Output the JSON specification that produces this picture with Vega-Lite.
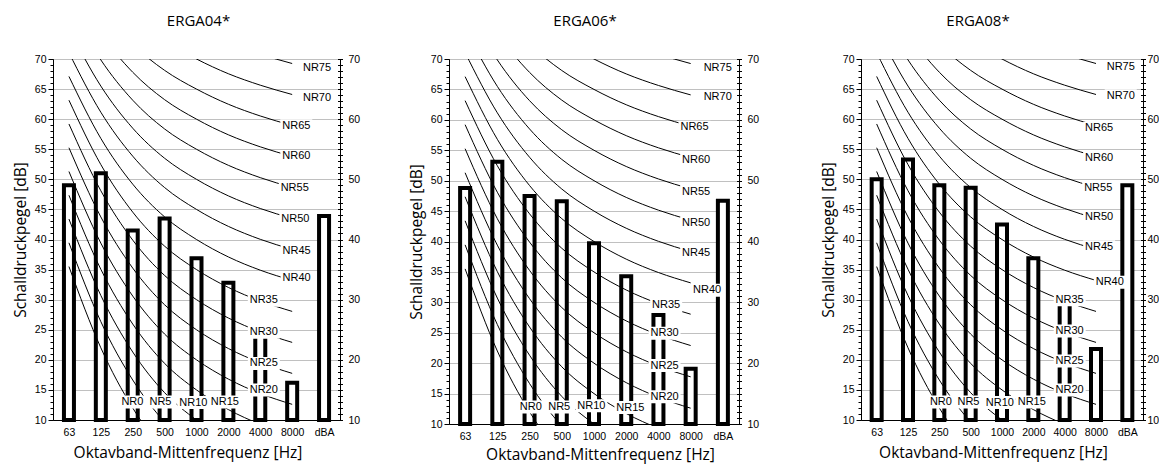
{
  "$schema": "https://vega.github.io/schema/vega-lite/v6.json",
  "padding": {"left": 13, "top": 14, "right": 0, "bottom": 4},
  "background": "white",
  "config": {
    "view": {"stroke": null},
    "axis": {"labelFont": "Liberation Sans", "labelFontSize": 10.5, "labelColor": "black", "titleFont": "Open Sans", "titleFontSize": 15.5, "titleFontWeight": "normal", "titleColor": "black", "domainColor": "black", "tickColor": "black", "gridColor": "#c0c0c0", "gridWidth": 1},
    "title": {"font": "Open Sans", "fontSize": 15, "fontWeight": "normal", "color": "black", "anchor": "middle", "baseline": "alphabetic", "offset": 25}
  },
  "datasets": {
    "bars": [
      {"p": "ERGA04*", "band": 0, "L": 49.0}, {"p": "ERGA04*", "band": 1, "L": 51.0}, {"p": "ERGA04*", "band": 2, "L": 41.5}, {"p": "ERGA04*", "band": 3, "L": 43.5}, {"p": "ERGA04*", "band": 4, "L": 36.9}, {"p": "ERGA04*", "band": 5, "L": 32.8}, {"p": "ERGA04*", "band": 6, "L": 24.3}, {"p": "ERGA04*", "band": 7, "L": 16.2}, {"p": "ERGA04*", "band": 8, "L": 43.9},
      {"p": "ERGA06*", "band": 0, "L": 48.8}, {"p": "ERGA06*", "band": 1, "L": 53.1}, {"p": "ERGA06*", "band": 2, "L": 47.5}, {"p": "ERGA06*", "band": 3, "L": 46.6}, {"p": "ERGA06*", "band": 4, "L": 39.7}, {"p": "ERGA06*", "band": 5, "L": 34.3}, {"p": "ERGA06*", "band": 6, "L": 27.9}, {"p": "ERGA06*", "band": 7, "L": 19.1}, {"p": "ERGA06*", "band": 8, "L": 46.7},
      {"p": "ERGA08*", "band": 0, "L": 50.0}, {"p": "ERGA08*", "band": 1, "L": 53.3}, {"p": "ERGA08*", "band": 2, "L": 49.0}, {"p": "ERGA08*", "band": 3, "L": 48.6}, {"p": "ERGA08*", "band": 4, "L": 42.5}, {"p": "ERGA08*", "band": 5, "L": 36.9}, {"p": "ERGA08*", "band": 6, "L": 29.5}, {"p": "ERGA08*", "band": 7, "L": 21.8}, {"p": "ERGA08*", "band": 8, "L": 49.0}
    ],
    "nr": [
      {"nr": 0, "band": 0, "L": 35.5}, {"nr": 0, "band": 1, "L": 22}, {"nr": 0, "band": 2, "L": 12}, {"nr": 0, "band": 3, "L": 4.8}, {"nr": 0, "band": 4, "L": 0}, {"nr": 0, "band": 5, "L": -3.5}, {"nr": 0, "band": 6, "L": -6.1}, {"nr": 0, "band": 7, "L": -8},
      {"nr": 5, "band": 0, "L": 39.45}, {"nr": 5, "band": 1, "L": 26.35}, {"nr": 5, "band": 2, "L": 16.65}, {"nr": 5, "band": 3, "L": 9.67}, {"nr": 5, "band": 4, "L": 5}, {"nr": 5, "band": 5, "L": 1.58}, {"nr": 5, "band": 6, "L": -0.98}, {"nr": 5, "band": 7, "L": -2.85},
      {"nr": 10, "band": 0, "L": 43.4}, {"nr": 10, "band": 1, "L": 30.7}, {"nr": 10, "band": 2, "L": 21.3}, {"nr": 10, "band": 3, "L": 14.54}, {"nr": 10, "band": 4, "L": 10}, {"nr": 10, "band": 5, "L": 6.65}, {"nr": 10, "band": 6, "L": 4.15}, {"nr": 10, "band": 7, "L": 2.3},
      {"nr": 15, "band": 0, "L": 47.35}, {"nr": 15, "band": 1, "L": 35.05}, {"nr": 15, "band": 2, "L": 25.95}, {"nr": 15, "band": 3, "L": 19.41}, {"nr": 15, "band": 4, "L": 15}, {"nr": 15, "band": 5, "L": 11.73}, {"nr": 15, "band": 6, "L": 9.28}, {"nr": 15, "band": 7, "L": 7.45},
      {"nr": 20, "band": 0, "L": 51.3}, {"nr": 20, "band": 1, "L": 39.4}, {"nr": 20, "band": 2, "L": 30.6}, {"nr": 20, "band": 3, "L": 24.28}, {"nr": 20, "band": 4, "L": 20}, {"nr": 20, "band": 5, "L": 16.8}, {"nr": 20, "band": 6, "L": 14.4}, {"nr": 20, "band": 7, "L": 12.6},
      {"nr": 25, "band": 0, "L": 55.25}, {"nr": 25, "band": 1, "L": 43.75}, {"nr": 25, "band": 2, "L": 35.25}, {"nr": 25, "band": 3, "L": 29.15}, {"nr": 25, "band": 4, "L": 25}, {"nr": 25, "band": 5, "L": 21.88}, {"nr": 25, "band": 6, "L": 19.53}, {"nr": 25, "band": 7, "L": 17.75},
      {"nr": 30, "band": 0, "L": 59.2}, {"nr": 30, "band": 1, "L": 48.1}, {"nr": 30, "band": 2, "L": 39.9}, {"nr": 30, "band": 3, "L": 34.02}, {"nr": 30, "band": 4, "L": 30}, {"nr": 30, "band": 5, "L": 26.95}, {"nr": 30, "band": 6, "L": 24.65}, {"nr": 30, "band": 7, "L": 22.9},
      {"nr": 35, "band": 0, "L": 63.15}, {"nr": 35, "band": 1, "L": 52.45}, {"nr": 35, "band": 2, "L": 44.55}, {"nr": 35, "band": 3, "L": 38.89}, {"nr": 35, "band": 4, "L": 35}, {"nr": 35, "band": 5, "L": 32.03}, {"nr": 35, "band": 6, "L": 29.78}, {"nr": 35, "band": 7, "L": 28.05},
      {"nr": 40, "band": 0, "L": 67.1}, {"nr": 40, "band": 1, "L": 56.8}, {"nr": 40, "band": 2, "L": 49.2}, {"nr": 40, "band": 3, "L": 43.76}, {"nr": 40, "band": 4, "L": 40}, {"nr": 40, "band": 5, "L": 37.1}, {"nr": 40, "band": 6, "L": 34.9}, {"nr": 40, "band": 7, "L": 33.2},
      {"nr": 45, "band": 0, "L": 71.05}, {"nr": 45, "band": 1, "L": 61.15}, {"nr": 45, "band": 2, "L": 53.85}, {"nr": 45, "band": 3, "L": 48.63}, {"nr": 45, "band": 4, "L": 45}, {"nr": 45, "band": 5, "L": 42.18}, {"nr": 45, "band": 6, "L": 40.03}, {"nr": 45, "band": 7, "L": 38.35},
      {"nr": 50, "band": 0, "L": 75}, {"nr": 50, "band": 1, "L": 65.5}, {"nr": 50, "band": 2, "L": 58.5}, {"nr": 50, "band": 3, "L": 53.5}, {"nr": 50, "band": 4, "L": 50}, {"nr": 50, "band": 5, "L": 47.25}, {"nr": 50, "band": 6, "L": 45.15}, {"nr": 50, "band": 7, "L": 43.5},
      {"nr": 55, "band": 0, "L": 78.95}, {"nr": 55, "band": 1, "L": 69.85}, {"nr": 55, "band": 2, "L": 63.15}, {"nr": 55, "band": 3, "L": 58.37}, {"nr": 55, "band": 4, "L": 55}, {"nr": 55, "band": 5, "L": 52.33}, {"nr": 55, "band": 6, "L": 50.28}, {"nr": 55, "band": 7, "L": 48.65},
      {"nr": 60, "band": 0, "L": 82.9}, {"nr": 60, "band": 1, "L": 74.2}, {"nr": 60, "band": 2, "L": 67.8}, {"nr": 60, "band": 3, "L": 63.24}, {"nr": 60, "band": 4, "L": 60}, {"nr": 60, "band": 5, "L": 57.4}, {"nr": 60, "band": 6, "L": 55.4}, {"nr": 60, "band": 7, "L": 53.8},
      {"nr": 65, "band": 0, "L": 86.85}, {"nr": 65, "band": 1, "L": 78.55}, {"nr": 65, "band": 2, "L": 72.45}, {"nr": 65, "band": 3, "L": 68.11}, {"nr": 65, "band": 4, "L": 65}, {"nr": 65, "band": 5, "L": 62.48}, {"nr": 65, "band": 6, "L": 60.53}, {"nr": 65, "band": 7, "L": 58.95},
      {"nr": 70, "band": 0, "L": 90.8}, {"nr": 70, "band": 1, "L": 82.9}, {"nr": 70, "band": 2, "L": 77.1}, {"nr": 70, "band": 3, "L": 72.98}, {"nr": 70, "band": 4, "L": 70}, {"nr": 70, "band": 5, "L": 67.55}, {"nr": 70, "band": 6, "L": 65.65}, {"nr": 70, "band": 7, "L": 64.1},
      {"nr": 75, "band": 0, "L": 94.75}, {"nr": 75, "band": 1, "L": 87.25}, {"nr": 75, "band": 2, "L": 81.75}, {"nr": 75, "band": 3, "L": 77.85}, {"nr": 75, "band": 4, "L": 75}, {"nr": 75, "band": 5, "L": 72.63}, {"nr": 75, "band": 6, "L": 70.78}, {"nr": 75, "band": 7, "L": 69.25}
    ],
    "labels": [
      {"p": "ERGA04*", "t": "NR75", "band": 7.78, "L": 68.5}, {"p": "ERGA04*", "t": "NR70", "band": 7.78, "L": 63.6}, {"p": "ERGA04*", "t": "NR65", "band": 7.13, "L": 58.9}, {"p": "ERGA04*", "t": "NR60", "band": 7.13, "L": 53.8}, {"p": "ERGA04*", "t": "NR55", "band": 7.08, "L": 48.5}, {"p": "ERGA04*", "t": "NR50", "band": 7.1, "L": 43.4}, {"p": "ERGA04*", "t": "NR45", "band": 7.14, "L": 38.1}, {"p": "ERGA04*", "t": "NR40", "band": 7.14, "L": 33.6}, {"p": "ERGA04*", "t": "NR35", "band": 6.11, "L": 29.9}, {"p": "ERGA04*", "t": "NR30", "band": 6.11, "L": 24.6}, {"p": "ERGA04*", "t": "NR25", "band": 6.11, "L": 19.4}, {"p": "ERGA04*", "t": "NR20", "band": 6.11, "L": 15.0}, {"p": "ERGA04*", "t": "NR15", "band": 4.89, "L": 13.0}, {"p": "ERGA04*", "t": "NR10", "band": 3.9, "L": 12.9}, {"p": "ERGA04*", "t": "NR5", "band": 2.87, "L": 13.0}, {"p": "ERGA04*", "t": "NR0", "band": 1.99, "L": 13.0},
      {"p": "ERGA06*", "t": "NR75", "band": 7.84, "L": 68.5}, {"p": "ERGA06*", "t": "NR70", "band": 7.84, "L": 63.7}, {"p": "ERGA06*", "t": "NR65", "band": 7.12, "L": 58.8}, {"p": "ERGA06*", "t": "NR60", "band": 7.17, "L": 53.4}, {"p": "ERGA06*", "t": "NR55", "band": 7.17, "L": 48.2}, {"p": "ERGA06*", "t": "NR50", "band": 7.17, "L": 43.1}, {"p": "ERGA06*", "t": "NR45", "band": 7.17, "L": 38.1}, {"p": "ERGA06*", "t": "NR40", "band": 7.51, "L": 32.0}, {"p": "ERGA06*", "t": "NR35", "band": 6.24, "L": 29.5}, {"p": "ERGA06*", "t": "NR30", "band": 6.19, "L": 24.9}, {"p": "ERGA06*", "t": "NR25", "band": 6.19, "L": 19.6}, {"p": "ERGA06*", "t": "NR20", "band": 6.19, "L": 14.5}, {"p": "ERGA06*", "t": "NR15", "band": 5.13, "L": 12.7}, {"p": "ERGA06*", "t": "NR10", "band": 3.92, "L": 13.0}, {"p": "ERGA06*", "t": "NR5", "band": 2.92, "L": 12.8}, {"p": "ERGA06*", "t": "NR0", "band": 2.04, "L": 12.8},
      {"p": "ERGA08*", "t": "NR75", "band": 7.79, "L": 68.6}, {"p": "ERGA08*", "t": "NR70", "band": 7.79, "L": 63.9}, {"p": "ERGA08*", "t": "NR65", "band": 7.1, "L": 58.5}, {"p": "ERGA08*", "t": "NR60", "band": 7.1, "L": 53.6}, {"p": "ERGA08*", "t": "NR55", "band": 7.07, "L": 48.6}, {"p": "ERGA08*", "t": "NR50", "band": 7.1, "L": 43.8}, {"p": "ERGA08*", "t": "NR45", "band": 7.1, "L": 38.8}, {"p": "ERGA08*", "t": "NR40", "band": 7.44, "L": 32.9}, {"p": "ERGA08*", "t": "NR35", "band": 6.16, "L": 30.0}, {"p": "ERGA08*", "t": "NR30", "band": 6.16, "L": 24.8}, {"p": "ERGA08*", "t": "NR25", "band": 6.16, "L": 19.8}, {"p": "ERGA08*", "t": "NR20", "band": 6.16, "L": 15.0}, {"p": "ERGA08*", "t": "NR15", "band": 4.95, "L": 13.0}, {"p": "ERGA08*", "t": "NR10", "band": 3.93, "L": 12.9}, {"p": "ERGA08*", "t": "NR5", "band": 2.93, "L": 13.0}, {"p": "ERGA08*", "t": "NR0", "band": 2.05, "L": 13.0}
    ]
  },
  "hconcat": [
    {
      "spacing": 49,
      "hconcat": [
        {
          "width": 287, "height": 361,
          "title": {"text": "ERGA04*", "dx": 2},
          "resolve": {"axis": {"y": "independent", "x": "independent"}},
          "layer": [
            {"data": {"name": "bars"}, "transform": [{"filter": "datum.p === 'ERGA04*'"}],
             "mark": {"type": "bar", "width": 10, "fill": "white", "stroke": "black", "strokeWidth": 4, "strokeJoin": "miter"},
             "encoding": {
               "x": {"field": "band", "type": "quantitative", "scale": {"domain": [-0.5, 8.5], "nice": false, "zero": false, "padding": 0},
                     "axis": {"orient": "bottom", "values": [0,1,2,3,4,5,6,7,8], "labelExpr": "['63','125','250','500','1000','2000','4000','8000','dBA'][datum.value]", "title": "Oktavband-Mittenfrequenz [Hz]", "ticks": false, "tickSize": 0, "grid": false, "labelPadding": 7, "titlePadding": 8, "titleX": 134.5}},
               "y": {"field": "L", "type": "quantitative", "scale": {"domain": [10, 70], "nice": false, "zero": false},
                     "axis": {"orient": "left", "values": [10,15,20,25,30,35,40,45,50,55,60,65,70], "title": "Schalldruckpegel [dB]", "tickSize": 5, "labelPadding": 2, "titlePadding": 6, "grid": true}},
               "y2": {"datum": 10}
             }},
            {"data": {"name": "nr"},
             "mark": {"type": "line", "interpolate": "monotone", "color": "black", "strokeWidth": 1, "clip": true},
             "encoding": {
               "x": {"field": "band", "type": "quantitative", "scale": {"domain": [-0.5, 8.5], "nice": false, "zero": false, "padding": 0}, "axis": null},
               "y": {"field": "L", "type": "quantitative", "scale": {"domain": [10, 70], "nice": false, "zero": false},
                     "axis": {"orient": "right", "values": [10,20,30,40,50,60,70], "title": null, "ticks": false, "labelPadding": 8, "grid": false}},
               "detail": {"field": "nr"}
             }},
            {"data": {"name": "labels"}, "transform": [{"filter": "datum.p === 'ERGA04*'"}],
             "mark": {"type": "point", "shape": "M-1.6,-0.65H1.6V0.65H-1.6Z", "size": 400, "filled": true, "fill": "white", "opacity": 1, "strokeWidth": 0},
             "encoding": {
               "x": {"field": "band", "type": "quantitative", "scale": {"domain": [-0.5, 8.5], "nice": false, "zero": false, "padding": 0}, "axis": null},
               "y": {"field": "L", "type": "quantitative", "scale": {"domain": [10, 70], "nice": false, "zero": false},
                     "axis": {"orient": "left", "values": [10,11,12,13,14,15,16,17,18,19,20,21,22,23,24,25,26,27,28,29,30,31,32,33,34,35,36,37,38,39,40,41,42,43,44,45,46,47,48,49,50,51,52,53,54,55,56,57,58,59,60,61,62,63,64,65,66,67,68,69,70], "title": null, "labels": false, "domain": false, "grid": false, "tickSize": 3}}
             }},
            {"data": {"name": "labels"}, "transform": [{"filter": "datum.p === 'ERGA04*'"}],
             "mark": {"type": "text", "font": "Liberation Sans", "fontSize": 11, "color": "black", "align": "center", "baseline": "middle"},
             "encoding": {
               "x": {"field": "band", "type": "quantitative", "scale": {"domain": [-0.5, 8.5], "nice": false, "zero": false, "padding": 0}, "axis": null},
               "y": {"field": "L", "type": "quantitative", "scale": {"domain": [10, 70], "nice": false, "zero": false},
                     "axis": {"orient": "right", "offset": -2.5, "values": [10,11,12,13,14,15,16,17,18,19,20,21,22,23,24,25,26,27,28,29,30,31,32,33,34,35,36,37,38,39,40,41,42,43,44,45,46,47,48,49,50,51,52,53,54,55,56,57,58,59,60,61,62,63,64,65,66,67,68,69,70], "title": null, "labels": false, "domain": false, "grid": false, "tickSize": 5}},
               "text": {"field": "t"}
             }}
          ]
        },
        {
          "width": 290, "height": 365,
          "title": {"text": "ERGA06*", "dx": -9},
          "resolve": {"axis": {"y": "independent", "x": "independent"}},
          "layer": [
            {"data": {"name": "bars"}, "transform": [{"filter": "datum.p === 'ERGA06*'"}],
             "mark": {"type": "bar", "width": 10, "fill": "white", "stroke": "black", "strokeWidth": 4, "strokeJoin": "miter"},
             "encoding": {
               "x": {"field": "band", "type": "quantitative", "scale": {"domain": [-0.5, 8.5], "nice": false, "zero": false, "padding": 0},
                     "axis": {"orient": "bottom", "values": [0,1,2,3,4,5,6,7,8], "labelExpr": "['63','125','250','500','1000','2000','4000','8000','dBA'][datum.value]", "title": "Oktavband-Mittenfrequenz [Hz]", "ticks": false, "tickSize": 0, "grid": false, "labelPadding": 7, "titlePadding": 6, "titleX": 151}},
               "y": {"field": "L", "type": "quantitative", "scale": {"domain": [10, 70], "nice": false, "zero": false},
                     "axis": {"orient": "left", "values": [10,15,20,25,30,35,40,45,50,55,60,65,70], "title": "Schalldruckpegel [dB]", "tickSize": 5, "labelPadding": 2, "titlePadding": 6, "grid": true}},
               "y2": {"datum": 10}
             }},
            {"data": {"name": "nr"},
             "mark": {"type": "line", "interpolate": "monotone", "color": "black", "strokeWidth": 1, "clip": true},
             "encoding": {
               "x": {"field": "band", "type": "quantitative", "scale": {"domain": [-0.5, 8.5], "nice": false, "zero": false, "padding": 0}, "axis": null},
               "y": {"field": "L", "type": "quantitative", "scale": {"domain": [10, 70], "nice": false, "zero": false},
                     "axis": {"orient": "right", "values": [10,20,30,40,50,60,70], "title": null, "ticks": false, "labelPadding": 8, "grid": false}},
               "detail": {"field": "nr"}
             }},
            {"data": {"name": "labels"}, "transform": [{"filter": "datum.p === 'ERGA06*'"}],
             "mark": {"type": "point", "shape": "M-1.6,-0.65H1.6V0.65H-1.6Z", "size": 400, "filled": true, "fill": "white", "opacity": 1, "strokeWidth": 0},
             "encoding": {
               "x": {"field": "band", "type": "quantitative", "scale": {"domain": [-0.5, 8.5], "nice": false, "zero": false, "padding": 0}, "axis": null},
               "y": {"field": "L", "type": "quantitative", "scale": {"domain": [10, 70], "nice": false, "zero": false},
                     "axis": {"orient": "left", "values": [10,11,12,13,14,15,16,17,18,19,20,21,22,23,24,25,26,27,28,29,30,31,32,33,34,35,36,37,38,39,40,41,42,43,44,45,46,47,48,49,50,51,52,53,54,55,56,57,58,59,60,61,62,63,64,65,66,67,68,69,70], "title": null, "labels": false, "domain": false, "grid": false, "tickSize": 3}}
             }},
            {"data": {"name": "labels"}, "transform": [{"filter": "datum.p === 'ERGA06*'"}],
             "mark": {"type": "text", "font": "Liberation Sans", "fontSize": 11, "color": "black", "align": "center", "baseline": "middle"},
             "encoding": {
               "x": {"field": "band", "type": "quantitative", "scale": {"domain": [-0.5, 8.5], "nice": false, "zero": false, "padding": 0}, "axis": null},
               "y": {"field": "L", "type": "quantitative", "scale": {"domain": [10, 70], "nice": false, "zero": false},
                     "axis": {"orient": "right", "offset": -2.5, "values": [10,11,12,13,14,15,16,17,18,19,20,21,22,23,24,25,26,27,28,29,30,31,32,33,34,35,36,37,38,39,40,41,42,43,44,45,46,47,48,49,50,51,52,53,54,55,56,57,58,59,60,61,62,63,64,65,66,67,68,69,70], "title": null, "labels": false, "domain": false, "grid": false, "tickSize": 5}},
               "text": {"field": "t"}
             }}
          ]
        }
      ]
    },
    {
      "width": 282, "height": 361,
      "title": {"text": "ERGA08*", "dx": -24},
      "resolve": {"axis": {"y": "independent", "x": "independent"}},
      "layer": [
        {"data": {"name": "bars"}, "transform": [{"filter": "datum.p === 'ERGA08*'"}],
         "mark": {"type": "bar", "width": 10, "fill": "white", "stroke": "black", "strokeWidth": 4, "strokeJoin": "miter"},
         "encoding": {
           "x": {"field": "band", "type": "quantitative", "scale": {"domain": [-0.5, 8.5], "nice": false, "zero": false, "padding": 0},
                 "axis": {"orient": "bottom", "values": [0,1,2,3,4,5,6,7,8], "labelExpr": "['63','125','250','500','1000','2000','4000','8000','dBA'][datum.value]", "title": "Oktavband-Mittenfrequenz [Hz]", "ticks": false, "tickSize": 0, "grid": false, "labelPadding": 7, "titlePadding": 8, "titleX": 132}},
           "y": {"field": "L", "type": "quantitative", "scale": {"domain": [10, 70], "nice": false, "zero": false},
                 "axis": {"orient": "left", "values": [10,15,20,25,30,35,40,45,50,55,60,65,70], "title": "Schalldruckpegel [dB]", "tickSize": 5, "labelPadding": 2, "titlePadding": 6, "grid": true}},
           "y2": {"datum": 10}
         }},
        {"data": {"name": "nr"},
         "mark": {"type": "line", "interpolate": "monotone", "color": "black", "strokeWidth": 1, "clip": true},
         "encoding": {
           "x": {"field": "band", "type": "quantitative", "scale": {"domain": [-0.5, 8.5], "nice": false, "zero": false, "padding": 0}, "axis": null},
           "y": {"field": "L", "type": "quantitative", "scale": {"domain": [10, 70], "nice": false, "zero": false},
                 "axis": {"orient": "right", "values": [10,20,30,40,50,60,70], "title": null, "ticks": false, "labelPadding": 4, "grid": false}},
           "detail": {"field": "nr"}
         }},
        {"data": {"name": "labels"}, "transform": [{"filter": "datum.p === 'ERGA08*'"}],
         "mark": {"type": "point", "shape": "M-1.6,-0.65H1.6V0.65H-1.6Z", "size": 400, "filled": true, "fill": "white", "opacity": 1, "strokeWidth": 0},
         "encoding": {
           "x": {"field": "band", "type": "quantitative", "scale": {"domain": [-0.5, 8.5], "nice": false, "zero": false, "padding": 0}, "axis": null},
           "y": {"field": "L", "type": "quantitative", "scale": {"domain": [10, 70], "nice": false, "zero": false},
                 "axis": {"orient": "left", "values": [10,11,12,13,14,15,16,17,18,19,20,21,22,23,24,25,26,27,28,29,30,31,32,33,34,35,36,37,38,39,40,41,42,43,44,45,46,47,48,49,50,51,52,53,54,55,56,57,58,59,60,61,62,63,64,65,66,67,68,69,70], "title": null, "labels": false, "domain": false, "grid": false, "tickSize": 3}}
         }},
        {"data": {"name": "labels"}, "transform": [{"filter": "datum.p === 'ERGA08*'"}],
         "mark": {"type": "text", "font": "Liberation Sans", "fontSize": 11, "color": "black", "align": "center", "baseline": "middle"},
         "encoding": {
           "x": {"field": "band", "type": "quantitative", "scale": {"domain": [-0.5, 8.5], "nice": false, "zero": false, "padding": 0}, "axis": null},
           "y": {"field": "L", "type": "quantitative", "scale": {"domain": [10, 70], "nice": false, "zero": false},
                 "axis": {"orient": "right", "offset": -2.5, "values": [10,11,12,13,14,15,16,17,18,19,20,21,22,23,24,25,26,27,28,29,30,31,32,33,34,35,36,37,38,39,40,41,42,43,44,45,46,47,48,49,50,51,52,53,54,55,56,57,58,59,60,61,62,63,64,65,66,67,68,69,70], "title": null, "labels": false, "domain": false, "grid": false, "tickSize": 5}},
           "text": {"field": "t"}
         }}
      ]
    }
  ],
  "spacing": 62
}
